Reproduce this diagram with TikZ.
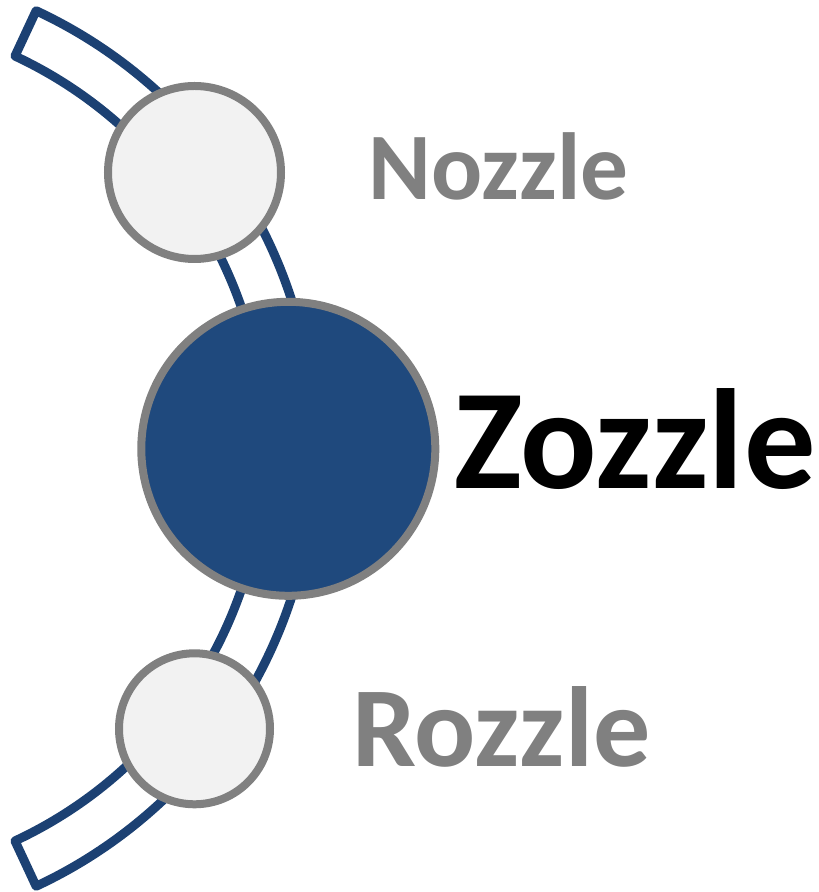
\documentclass[tikz,border=0pt]{standalone}
\usepackage{fontspec}
\setmainfont{Carlito}
\usetikzlibrary{calc}
\definecolor{zblue}{HTML}{1F497D}
\definecolor{bandblue}{HTML}{1C4173}
\definecolor{rimgray}{HTML}{808080}
\definecolor{lightfill}{HTML}{F2F2F2}
\begin{document}
\begin{tikzpicture}[x=1pt,y=1pt,
  band/.style={draw=bandblue,fill=white,line width=9pt,line join=round},
  smallball/.style={circle,draw=rimgray,fill=lightfill,line width=8pt,inner sep=0pt},
  bigball/.style={circle,draw=rimgray,fill=zblue,line width=8pt,inner sep=0pt},
  lbl/.style={anchor=base west,inner sep=0pt,font=\bfseries}]
\useasboundingbox (0,0) rectangle (819,892);
\coordinate (c) at (-168,443.5);
\draw[band] ($(c)+(65:483)$) arc[start angle=65,end angle=-65,radius=483]
  -- ($(c)+(-65:433)$) arc[start angle=-65,end angle=65,radius=433] -- cycle;
\node[smallball,minimum size=173pt] (nozzle) at (194.5,719.5) {};
\node[bigball,minimum size=294pt] (zozzle) at (288.3,443.2) {};
\node[smallball,minimum size=151pt] (rozzle) at (194.5,163.2) {};
\node[lbl,text=rimgray,font=\bfseries\fontsize{95.3}{100}\selectfont] (tn) at (368.5,692.7) {Nozzle};
\node[lbl,text=black,font=\bfseries\fontsize{142.5}{150}\selectfont] (tz) at (454,403.7) {Zozzle};
\node[lbl,text=rimgray,font=\bfseries\fontsize{114}{120}\selectfont] (tr) at (352,125.3) {Rozzle};
\end{tikzpicture}
\end{document}
